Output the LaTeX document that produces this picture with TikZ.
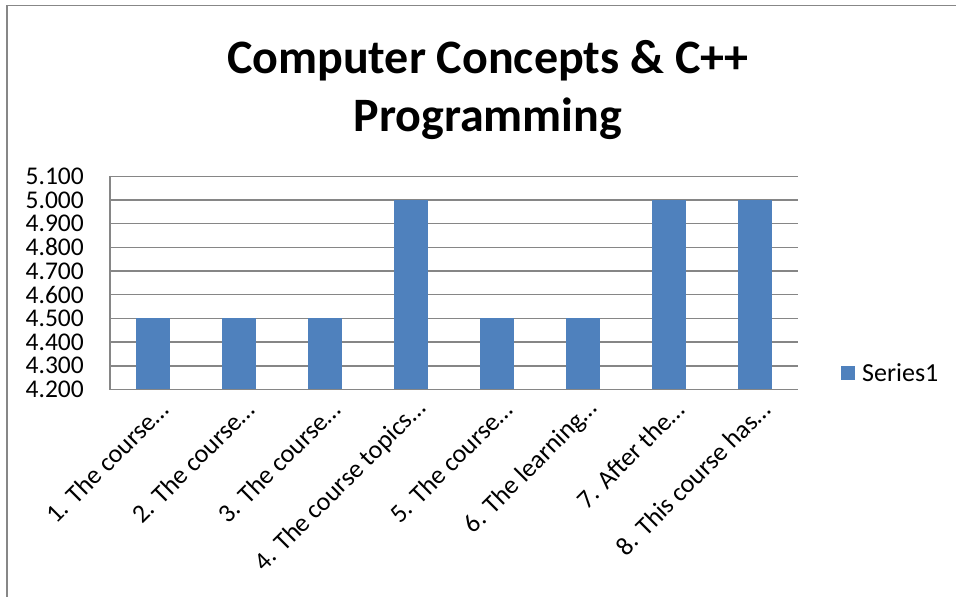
\documentclass[tikz,border=0pt]{standalone}
\usepackage{fontspec}
\setmainfont{Carlito}
\definecolor{barblue}{HTML}{4F81BD}
\definecolor{gridgray}{HTML}{868686}
\definecolor{framegray}{HTML}{878787}
\tikzset{
  gridline/.style={draw=gridgray, line width=1.4pt},
  ticklabel/.style={anchor=east, inner sep=0pt, font=\fontsize{25.5}{25.5}\selectfont},
  catlabel/.style={anchor=east, rotate=45, inner sep=0pt, font=\fontsize{26}{26}\selectfont},
  barbox/.style={fill=barblue},
}
\begin{document}
\begin{tikzpicture}[x=1pt,y=-1pt]
\useasboundingbox (0,0) rectangle (956,597);
% frame
\draw[framegray, line width=1.6pt] (7,597) -- (7,5.5) -- (956,5.5);
% title
\node[align=center, font=\fontsize{48}{58}\selectfont\bfseries] (title) at (488,90)
  {Computer Concepts \& C++\\Programming};
% gridlines and tick labels
\foreach \i/\lab in {0/4.200,1/4.300,2/4.400,3/4.500,4/4.600,5/4.700,6/4.800,7/4.900,8/5.000,9/5.100}{
  \draw[gridline] (110,{389.5-23.7*\i}) -- (798,{389.5-23.7*\i});
  \node[ticklabel] (tick\i) at (84,{389.5-23.7*\i}) {\lab};
}
% bars
\foreach \i/\v in {1/3,2/3,3/3,4/8,5/3,6/3,7/8,8/8}{
  \fill[barbox] ({110+86*\i-43-17},{389.5-23.7*\v}) rectangle ({110+86*\i-43+17},389.5);
}
% axes
\draw[gridline] (110,175.8) -- (110,389.5) -- (798,389.5);
% category labels
\foreach \i/\t in {1/{1. The course…},2/{2. The course…},3/{3. The course…},4/{4. The course topics…},5/{5. The course…},6/{6. The learning…},7/{7. After the…},8/{8. This course has…}}{
  \node[catlabel] (cat\i) at ({110+86*\i-43+11},405) {\t};
}
% legend
\fill[barblue] (841,366) rectangle (855,380);
\node[anchor=west, inner sep=0pt, font=\fontsize{26}{26}\selectfont] (legend) at (862,373) {Series1};
\end{tikzpicture}
\end{document}
